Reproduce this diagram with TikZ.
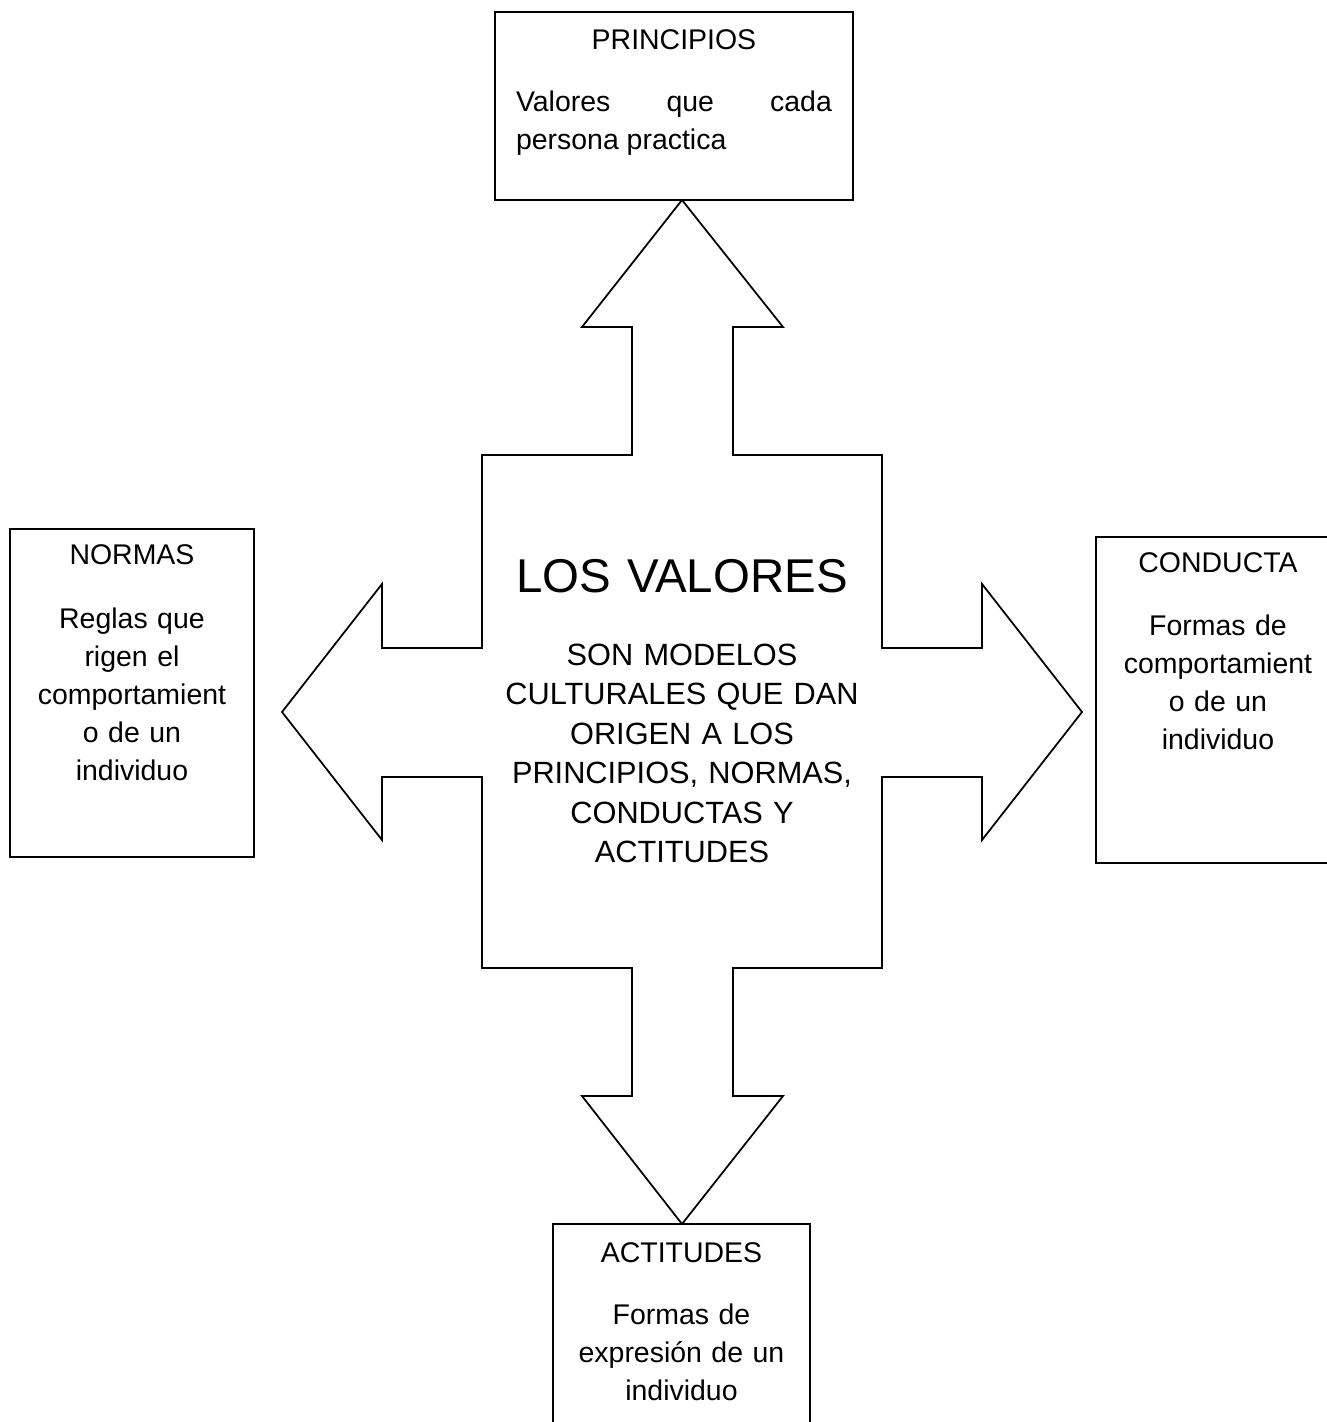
\documentclass[tikz,border=0pt]{standalone}
\usepackage{fontspec}
\setmainfont{Liberation Sans}
\usetikzlibrary{positioning}
\hyphenpenalty=10000
\exhyphenpenalty=10000
\tikzset{
  box/.style = {
    rectangle, draw=black, line width=1pt,
    inner sep=0pt, outer sep=0pt
  },
  boxtxt/.style = {
    align=center, inner sep=0pt, anchor=base,
    font=\fontsize{16.2}{21.6}\selectfont
  },
  quadarr/.style = {draw=black, line width=1pt, line join=miter}
}
\begin{document}
\begin{tikzpicture}[x=0.02cm, y=-0.02cm]
\useasboundingbox (0,0) rectangle (1327,1422);
\clip (0,0) rectangle (1327,1422);

% four-way arrow in the middle
\draw[quadarr] (682,200) -- (783,327) -- (733,327) -- (733,455) -- (882,455)
  -- (882,648) -- (982,648) -- (982,584) -- (1082,712) -- (982,840) -- (982,777)
  -- (882,777) -- (882,968) -- (733,968) -- (733,1096) -- (783,1096) -- (682,1224)
  -- (582,1096) -- (632,1096) -- (632,968) -- (482,968) -- (482,777) -- (382,777)
  -- (382,840) -- (282,712) -- (382,584) -- (382,648) -- (482,648) -- (482,455)
  -- (632,455) -- (632,327) -- (582,327) -- cycle;

\node[boxtxt, font=\fontsize{27}{32}\selectfont, text width=9cm] (lema) at (682,592)
      {LOS VALORES};
\node[boxtxt, font=\fontsize{17.5}{22.5}\selectfont, text width=8cm] (lemadesc) at (682,665)
      {SON MODELOS\\CULTURALES QUE DAN\\ORIGEN A LOS\\PRINCIPIOS, NORMAS,\\CONDUCTAS Y\\ACTITUDES};

% boxes
\node[box, anchor=north west, minimum width=7.16cm, minimum height=3.76cm] (princ) at (495,12) {};
\node[box, anchor=north west, minimum width=4.88cm, minimum height=6.56cm] (normas) at (10,529) {};
\node[box, anchor=north west, minimum width=4.88cm, minimum height=6.52cm] (conducta) at (1096,537) {};
\node[box, anchor=north west, minimum width=5.14cm, minimum height=5.2cm] (actitudes) at (553,1224) {};

\node[boxtxt, align=justify, text width=6.32cm] (princtxt) at ([yshift=-0.76cm]princ.north)
      {\hfill PRINCIPIOS\hfill\null\\[0.48cm]Valores que cada persona practica};
\node[boxtxt, text width=4.6cm] (normastxt) at ([yshift=-0.72cm]normas.north)
      {NORMAS\\[0.52cm]Reglas que\\rigen el\\comportamient\\o de un\\individuo};
\node[boxtxt, text width=4.6cm] (conductatxt) at ([yshift=-0.72cm]conducta.north)
      {CONDUCTA\\[0.5cm]Formas de\\comportamient\\o de un\\individuo};
\node[boxtxt, text width=4.9cm] (actitudestxt) at ([yshift=-0.76cm]actitudes.north)
      {ACTITUDES\\[0.5cm]Formas de\\expresión de un\\individuo};

\end{tikzpicture}
\end{document}
